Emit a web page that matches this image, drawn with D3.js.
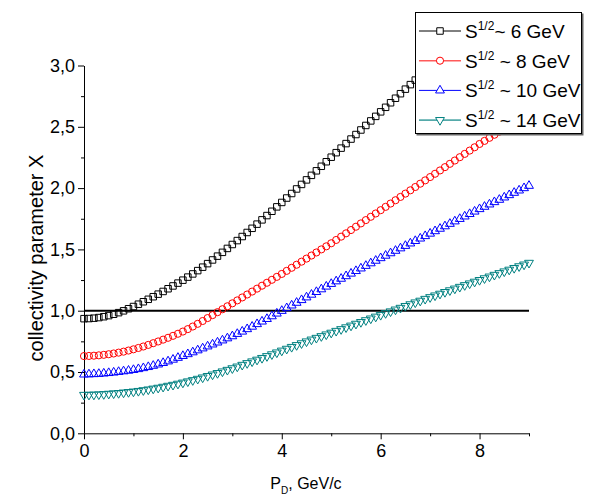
<!DOCTYPE html>
<html>
<head>
<meta charset="UTF-8">
<title>Collectivity parameter</title>
<style>
  body { margin: 0; background: #fff; }
  svg { display: block; background: #fff; }
  text { font-family: "Liberation Sans", Arial, sans-serif; fill: #000; }
</style>
</head>
<body>
<div id="chart"></div>
<script src="https://cdn.jsdelivr.net/npm/d3@7"></script>
<script>
// P_D grid (GeV/c), 0 ... 9 step 0.1
const pD = d3.range(91).map(i => i / 10);

const series6 = [
  0.935, 0.936, 0.939, 0.944, 0.951, 0.960, 0.971, 0.984, 0.999, 1.016,
  1.034, 1.053, 1.073, 1.093, 1.114, 1.135, 1.157, 1.179, 1.202, 1.225,
  1.249, 1.274, 1.300, 1.327, 1.355, 1.384, 1.414, 1.445, 1.476, 1.508,
  1.540, 1.572, 1.605, 1.638, 1.672, 1.706, 1.741, 1.776, 1.811, 1.847,
  1.883, 1.919, 1.956, 1.993, 2.030, 2.067, 2.104, 2.141, 2.178, 2.215,
  2.252, 2.289, 2.326, 2.363, 2.400, 2.437, 2.474, 2.511, 2.548, 2.585,
  2.622, 2.659, 2.696, 2.733, 2.770, 2.807, 2.844, 2.881, 2.918, 2.955,
  2.992
];
const series8 = [
  0.630, 0.631, 0.633, 0.636, 0.640, 0.645, 0.651, 0.658, 0.666, 0.675,
  0.685, 0.696, 0.708, 0.721, 0.735, 0.749, 0.764, 0.779, 0.795, 0.812,
  0.830, 0.850, 0.871, 0.893, 0.916, 0.940, 0.964, 0.988, 1.012, 1.036,
  1.060, 1.084, 1.108, 1.132, 1.156, 1.180, 1.204, 1.228, 1.252, 1.276,
  1.300, 1.325, 1.350, 1.375, 1.400, 1.425, 1.450, 1.475, 1.500, 1.525,
  1.550, 1.577, 1.604, 1.631, 1.658, 1.685, 1.712, 1.739, 1.766, 1.793,
  1.820, 1.847, 1.874, 1.901, 1.928, 1.955, 1.982, 2.009, 2.036, 2.063,
  2.090, 2.117, 2.144, 2.171, 2.198, 2.225, 2.252, 2.279, 2.306, 2.333,
  2.360, 2.385, 2.410, 2.435, 2.460, 2.485, 2.510, 2.535, 2.560, 2.585,
  2.610
];
const series10 = [
  0.480, 0.481, 0.483, 0.485, 0.488, 0.492, 0.496, 0.501, 0.506, 0.511,
  0.517, 0.524, 0.532, 0.541, 0.551, 0.562, 0.574, 0.587, 0.601, 0.616,
  0.631, 0.646, 0.661, 0.677, 0.693, 0.709, 0.725, 0.741, 0.758, 0.775,
  0.792, 0.811, 0.830, 0.850, 0.870, 0.891, 0.912, 0.933, 0.955, 0.977,
  0.999, 1.021, 1.043, 1.065, 1.087, 1.109, 1.131, 1.153, 1.175, 1.197,
  1.219, 1.240, 1.261, 1.282, 1.303, 1.324, 1.345, 1.366, 1.387, 1.408,
  1.429, 1.449, 1.469, 1.489, 1.509, 1.529, 1.549, 1.569, 1.589, 1.609,
  1.629, 1.649, 1.669, 1.689, 1.709, 1.729, 1.749, 1.769, 1.789, 1.809,
  1.829, 1.848, 1.867, 1.886, 1.905, 1.924, 1.943, 1.962, 1.981, 2.000,
  2.019
];
const series14 = [
  0.313, 0.314, 0.315, 0.317, 0.319, 0.322, 0.325, 0.328, 0.332, 0.336,
  0.340, 0.345, 0.351, 0.357, 0.364, 0.371, 0.379, 0.387, 0.395, 0.404,
  0.413, 0.423, 0.433, 0.444, 0.455, 0.467, 0.479, 0.491, 0.504, 0.517,
  0.530, 0.544, 0.558, 0.572, 0.586, 0.600, 0.614, 0.629, 0.644, 0.659,
  0.674, 0.689, 0.704, 0.719, 0.734, 0.749, 0.764, 0.778, 0.792, 0.806,
  0.820, 0.835, 0.849, 0.864, 0.878, 0.893, 0.907, 0.922, 0.936, 0.951,
  0.965, 0.980, 0.994, 1.009, 1.023, 1.038, 1.052, 1.067, 1.081, 1.096,
  1.110, 1.124, 1.138, 1.152, 1.166, 1.180, 1.194, 1.208, 1.222, 1.236,
  1.250, 1.264, 1.278, 1.292, 1.306, 1.320, 1.334, 1.348, 1.362, 1.376,
  1.390
];

const seriesNames = ["6", "8", "10", "14"];
const seriesValues = [series6, series8, series10, series14];
const xMajorTicks = [0, 2, 4, 6, 8];
const xMinorTicks = [1, 3, 5, 7, 9];
const yMajorTicks = [0, 0.5, 1.0, 1.5, 2.0, 2.5, 3.0];
const yMinorTicks = [0.25, 0.75, 1.25, 1.75, 2.25, 2.75];
const referenceLevel = 1.0;

const W = 614, H = 496;
const margin = { top: 65.5, right: 85, bottom: 62.7, left: 84 };
const width = W - margin.left - margin.right,
      height = H - margin.top - margin.bottom;

const styles = [
  { color: "#000000", legendLine: "#000000", symbol: d3.symbolSquare, size: 42, rotate: 0 },
  { color: "#ff0000", legendLine: "#ff5a5a", symbol: d3.symbolCircle, size: 40, rotate: 0 },
  { color: "#0000ff", legendLine: "#0000ff", symbol: d3.symbolTriangle, size: 34, rotate: 0 },
  { color: "#008080", legendLine: "#55aaaa", symbol: d3.symbolTriangle, size: 34, rotate: 180 }
];

const x = d3.scaleLinear().domain([0, 9]).range([0, width]);
const y = d3.scaleLinear().domain([0, 3]).range([height, 0]);

const svg = d3.select("#chart").append("svg")
    .attr("width", W)
    .attr("height", H);
const g = svg.append("g")
    .attr("transform", "translate(" + margin.left + "," + margin.top + ")");

const comma = d => d3.format(".1f")(d).replace(".", ",");

// axes
g.append("g")
    .attr("transform", "translate(0," + height + ")")
    .call(d3.axisBottom(x).tickValues(xMajorTicks).tickSize(6).tickSizeOuter(0).tickPadding(5));
g.append("g")
    .attr("transform", "translate(0," + height + ")")
    .call(d3.axisBottom(x).tickValues(xMinorTicks).tickSize(3).tickFormat(""))
    .select(".domain").remove();
g.append("g")
    .call(d3.axisLeft(y).tickValues(yMajorTicks).tickSize(6).tickSizeOuter(0).tickPadding(3).tickFormat(comma));
g.append("g")
    .call(d3.axisLeft(y).tickValues(yMinorTicks).tickSize(3).tickFormat(""))
    .select(".domain").remove();

g.selectAll(".tick text")
    .style("font-size", "18px")
    .style("font-family", "'Liberation Sans', Arial, sans-serif")
    .attr("fill", "#000");
g.selectAll(".domain, .tick line").attr("stroke", "#000");

// reference line X = 1
g.append("line")
    .attr("x1", x(0)).attr("x2", x(9))
    .attr("y1", y(referenceLevel)).attr("y2", y(referenceLevel))
    .attr("stroke", "#000")
    .attr("stroke-width", 2);

// data markers
seriesValues.forEach((vals, i) => {
  const st = styles[i];
  const sym = d3.symbol().type(st.symbol).size(st.size);
  g.append("g").selectAll("path")
    .data(vals)
    .enter()
    .append("path")
    .attr("d", sym)
    .attr("transform", (d, j) => "translate(" + x(pD[j]) + "," + y(d) + ") rotate(" + st.rotate + ")")
    .attr("fill", "none")
    .attr("stroke", st.color)
    .attr("stroke-width", 1);
});

// axis titles
svg.append("text")
    .attr("transform", "translate(43,258) rotate(-90)")
    .attr("text-anchor", "middle")
    .style("font-size", "20px")
    .text("collectivity parameter X");

const xt = svg.append("text")
    .attr("x", 306)
    .attr("y", 489)
    .attr("text-anchor", "middle")
    .style("font-size", "16px");
xt.append("tspan").text("P");
xt.append("tspan").attr("dy", 5).style("font-size", "10px").text("D");
xt.append("tspan").attr("dy", -5).text(", GeV/c");

// legend
const lg = svg.append("g").attr("transform", "translate(415,12)");
lg.append("rect")
    .attr("x", 1.5).attr("y", 1.5)
    .attr("width", 167).attr("height", 122)
    .attr("fill", "#666");
lg.append("rect")
    .attr("x", 0.5).attr("y", 0.5)
    .attr("width", 166).attr("height", 121)
    .attr("fill", "#fff")
    .attr("stroke", "#000");

seriesNames.forEach((name, i) => {
  const st = styles[i];
  const cy = 19 + i * 29.7;
  lg.append("line")
    .attr("x1", 4).attr("x2", 46)
    .attr("y1", cy).attr("y2", cy)
    .attr("stroke", st.legendLine)
    .attr("stroke-width", i === 1 || i === 3 ? 1.6 : 1);
  lg.append("path")
    .attr("d", d3.symbol().type(st.symbol).size(st.size))
    .attr("transform", "translate(25," + cy + ") rotate(" + st.rotate + ")")
    .attr("fill", "#fff")
    .attr("stroke", st.color)
    .attr("stroke-width", 1);
  const t = lg.append("text")
    .attr("x", 50)
    .attr("y", cy + 7)
    .style("font-size", "19px");
  t.append("tspan").text("S");
  t.append("tspan").attr("dy", -8).style("font-size", "12px").text("1/2");
  t.append("tspan").attr("dy", 8).text((i === 0 ? "~ " : " ~ ") + name + " GeV");
});
</script>
</body>
</html>
